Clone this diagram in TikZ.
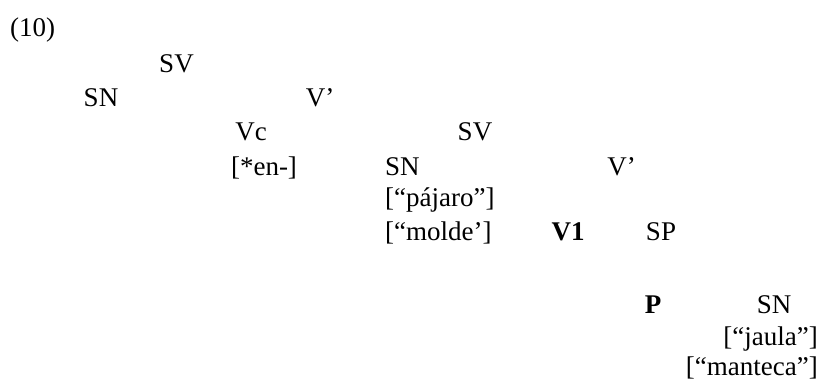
\documentclass[tikz,border=0pt]{standalone}
\usepackage{fontspec}
\setmainfont{Liberation Serif}
\begin{document}
\begin{tikzpicture}[x=1pt,y=-1pt,
  lbl/.style={anchor=base,inner sep=0pt,font=\fontsize{27}{32}\selectfont},
  blbl/.style={lbl,font=\fontsize{27}{32}\selectfont\bfseries},
  lleft/.style={lbl,anchor=base west},
  lright/.style={lbl,anchor=base east}]
\useasboundingbox (0,0) rectangle (819,383);
% example number
\node[lbl] (num) at (32.5,36) {(10)};
% upper clause
\node[lbl] (sv1) at (176.5,72) {SV};
\node[lbl] (sn1) at (101,106) {SN};
\node[lbl] (vb1) at (320,106) {V'};
\node[lbl] (vc) at (251,140) {Vc};
\node[lbl] (en) at (264,175) {[*en-]};
% embedded clause
\node[lbl] (sv2) at (475,140) {SV};
\node[lleft] (sn2) at (385,175) {SN};
\node[lbl] (vb2) at (621.5,175) {V'};
\node[lleft] (paj) at (385,206) {[“pájaro”]};
\node[lleft] (mol) at (385,240) {[“molde’]};
\node[blbl] (v1) at (568,240) {V1};
\node[lbl] (sp) at (661,240) {SP};
% prepositional phrase
\node[blbl] (p) at (653,313) {P};
\node[lbl] (sn3) at (774,313) {SN};
\node[lright] (jau) at (818,345) {[“jaula”]};
\node[lright] (man) at (818,375) {[“manteca”]};
\end{tikzpicture}
\end{document}
